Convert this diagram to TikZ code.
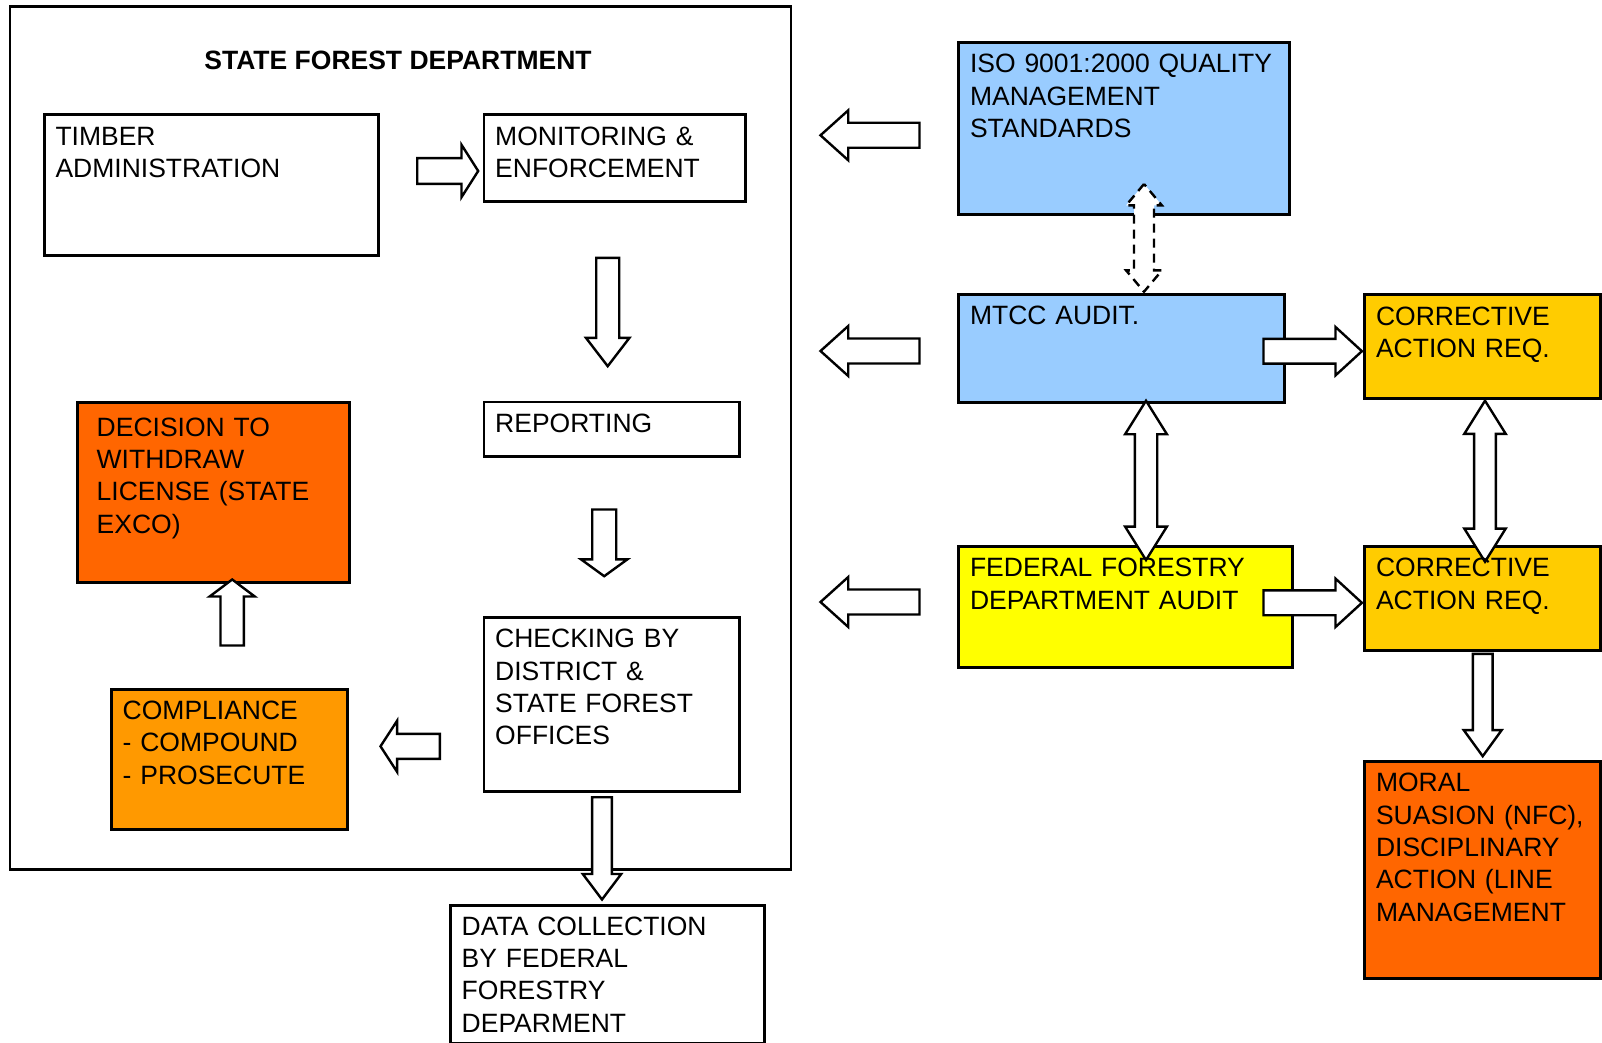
\documentclass[tikz,border=0pt]{standalone}
\usepackage{fontspec}
\setmainfont{Liberation Sans}
\usetikzlibrary{shapes.arrows}

\definecolor{isoblue}{HTML}{99CCFF}
\definecolor{fedyellow}{HTML}{FFFF00}
\definecolor{corrgold}{HTML}{FFCC00}
\definecolor{deepOrange}{HTML}{FF6600}
\definecolor{compOrange}{HTML}{FF9900}
\newcommand\boxfont{\fontsize{26.5}{32.3}\selectfont}

\begin{document}
\begin{tikzpicture}[
        x=1pt, y=-1pt,
        box/.style={draw, line width=2.8pt, anchor=north west, inner sep=0pt},
        boxtext/.style={anchor=north west, inner sep=0pt, text width=#1, align=left,
            font=\boxfont, execute at begin node=\strut},
        onearrow/.style n args={4}{single arrow, draw, fill=white, line width=2.4pt,
            anchor=tail, inner xsep=0pt, inner ysep=#2, minimum height=#1,
            single arrow head extend=#3, single arrow tip angle=#4},
        twoarrow/.style n args={4}{double arrow, draw, fill=white, line width=2.4pt,
            inner xsep=0pt, inner ysep=#2, minimum height=#1,
            double arrow head extend=#3, double arrow tip angle=#4}
    ]
    \useasboundingbox (0,0) rectangle (1602,1043);

    % state forest department frame
    \node [box, minimum width=781, minimum height=862.5] (sfd) at (8.5,5.5) {};
    \node [font=\fontsize{26.5}{32.3}\selectfont\bfseries] (sfdtitle) at (398,60) {STATE FOREST DEPARTMENT};

    % boxes
    \node [box, minimum width=334.5, minimum height=140.5] (timber) at (42.8,113.4) {};
    \node [box, minimum width=261.5, minimum height=86.5] (mon) at (482.5,113.4) {};
    \node [box, minimum width=255.2, minimum height=54.2] (rep) at (482.5,400.5) {};
    \node [box, minimum width=255.5, minimum height=174] (chk) at (482.5,616) {};
    \node [box, minimum width=314, minimum height=137.5] (data) at (449,904) {};
    \node [box, fill=compOrange, minimum width=235.7, minimum height=140] (comp) at (110,688.3) {};
    \node [box, fill=deepOrange, minimum width=272.3, minimum height=180] (dec) at (76,401) {};
    \node [box, fill=isoblue, minimum width=330.4, minimum height=172.4] (iso) at (957.3,40.9) {};
    \node [box, fill=isoblue, minimum width=326, minimum height=108] (mtcc) at (957.3,292.7) {};
    \node [box, fill=fedyellow, minimum width=333.4, minimum height=120.7] (fed) at (957.3,545) {};
    \node [box, fill=corrgold, minimum width=235.7, minimum height=104] (corA) at (1363.3,293.3) {};
    \node [box, fill=corrgold, minimum width=235.7, minimum height=104.3] (corB) at (1363.3,545) {};
    \node [box, fill=deepOrange, minimum width=235.7, minimum height=216.7] (moral) at (1363.3,760) {};

    % block arrows (placed by their tails)
    \node [onearrow={61}{11.7}{13.3}{115}] (arTM) at (416,171) {};
    \node [onearrow={108.3}{10.3}{10.2}{75}, rotate=-90] (arMR) at (607.7,256.7) {};
    \node [onearrow={66.7}{10.8}{11.2}{108}, rotate=-90] (arRC) at (604.2,508.3) {};
    \node [onearrow={102.3}{8.7}{9.3}{74}, rotate=-90] (arCD) at (602,796) {};
    \node [onearrow={59.3}{11.3}{13.2}{114}, rotate=180] (arCC) at (441,746.3) {};
    \node [onearrow={66}{10.5}{10.8}{106}, rotate=90] (arCoD) at (232.2,646.7) {};
    \node [onearrow={99}{11.3}{12.5}{84}, rotate=180] (arISO) at (920.7,135.3) {};
    \node [onearrow={99}{11.3}{12.5}{84}, rotate=180] (arMT) at (920.7,351) {};
    \node [onearrow={99}{11.3}{12.5}{84}, rotate=180] (arFE) at (920.7,602) {};
    \node [twoarrow={107.7}{8.8}{7.9}{80}, rotate=90, dash pattern=on 9pt off 6pt] (arIM) at (1144,237.9) {};
    \node [twoarrow={159.3}{10}{9.7}{64}, rotate=90] (arMF) at (1146,480.4) {};
    \node [twoarrow={161}{9.7}{9.8}{64}, rotate=90] (arCC2) at (1485,481.2) {};
    \node [onearrow={98.4}{11.2}{11.8}{85}] (arMC) at (1262.3,351.2) {};
    \node [onearrow={98.4}{11.2}{11.8}{85}] (arFC) at (1262.3,602.8) {};
    \node [onearrow={102.3}{8.7}{9}{72}, rotate=-90] (arCM) at (1482.7,652.7) {};

    % texts
    \node [boxtext=320] (timbertext) at ([shift={(12.5,9)}]timber.north west) {TIMBER\\ ADMINISTRATION};
    \node [boxtext=245] (montext) at ([shift={(12.5,9)}]mon.north west) {MONITORING \&\\ ENFORCEMENT};
    \node [boxtext=240] (reptext) at ([shift={(12.5,9)}]rep.north west) {REPORTING};
    \node [boxtext=240] (chktext) at ([shift={(12.5,9)}]chk.north west) {CHECKING BY\\ DISTRICT \&\\ STATE FOREST\\ OFFICES};
    \node [boxtext=298] (datatext) at ([shift={(12.5,8.5)}]data.north west) {DATA COLLECTION\\ BY FEDERAL\\ FORESTRY\\ DEPARMENT};
    \node [boxtext=220] (comptext) at ([shift={(12.5,8.5)}]comp.north west) {COMPLIANCE\\ - COMPOUND\\ - PROSECUTE};
    \node [boxtext=250] (dectext) at ([shift={(20.5,12.5)}]dec.north west) {DECISION TO\\ WITHDRAW\\ LICENSE (STATE\\ EXCO)};
    \node [boxtext=315] (isotext) at ([shift={(12.5,9)}]iso.north west) {ISO 9001:2000 QUALITY\\ MANAGEMENT\\ STANDARDS};
    \node [boxtext=310] (mtcctext) at ([shift={(12.5,9)}]mtcc.north west) {MTCC AUDIT.};
    \node [boxtext=318] (fedtext) at ([shift={(12.5,9)}]fed.north west) {FEDERAL FORESTRY\\ DEPARTMENT AUDIT};
    \node [boxtext=222] (corAtext) at ([shift={(12.5,9)}]corA.north west) {CORRECTIVE\\ ACTION REQ.};
    \node [boxtext=222] (corBtext) at ([shift={(12.5,9)}]corB.north west) {CORRECTIVE\\ ACTION REQ.};
    \node [boxtext=222] (moraltext) at ([shift={(12.5,9)}]moral.north west) {MORAL\\ SUASION (NFC),\\ DISCIPLINARY\\ ACTION (LINE\\ MANAGEMENT};
\end{tikzpicture}
\end{document}
